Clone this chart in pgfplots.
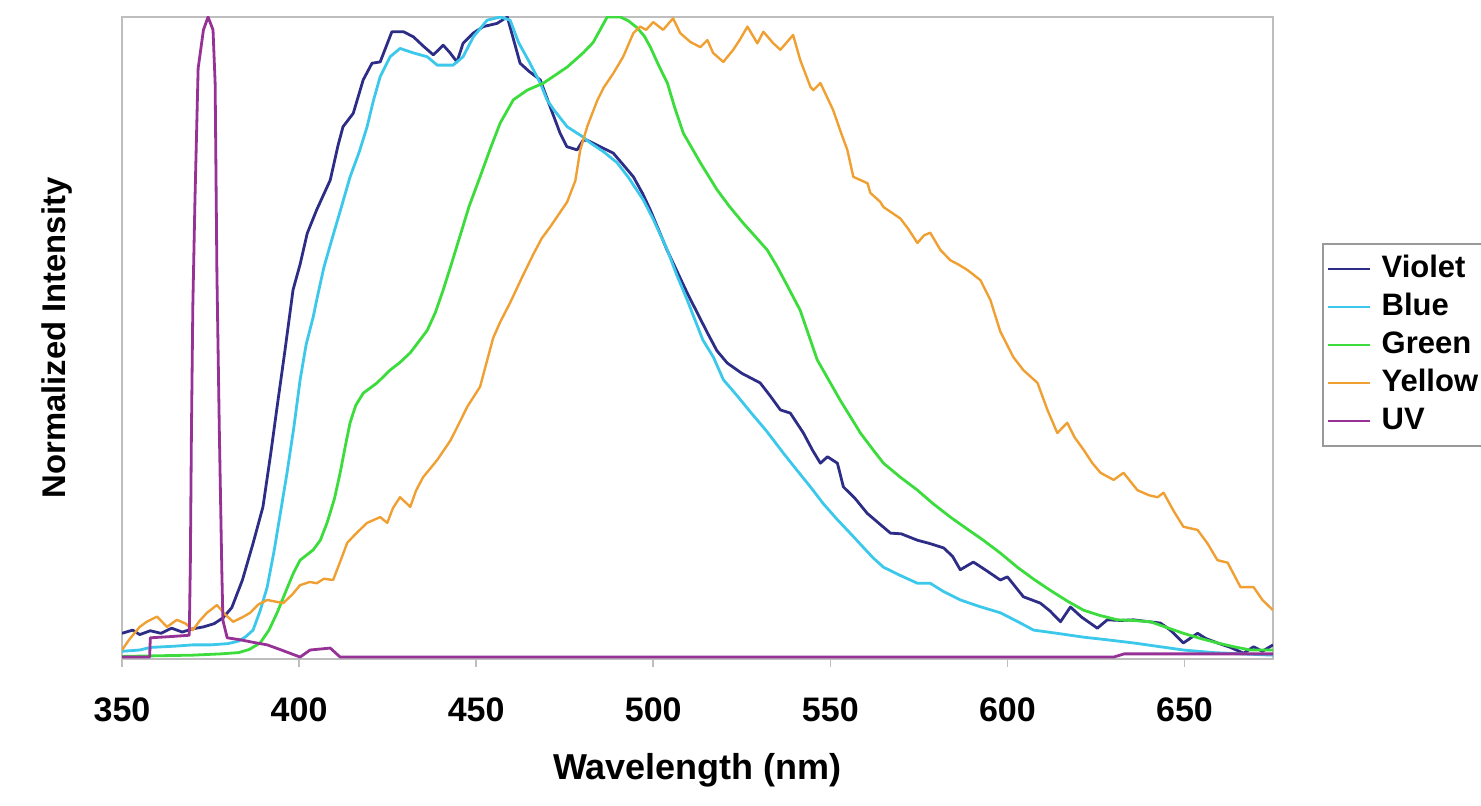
\documentclass[border=0pt]{standalone}
\usepackage{fontspec}
\setmainfont{Liberation Sans}
\usepackage{pgfplots}
\pgfplotsset{compat=1.18}
\definecolor{cViolet}{RGB}{45,45,135}
\definecolor{cBlue}{RGB}{60,200,235}
\definecolor{cGreen}{RGB}{60,220,60}
\definecolor{cYellow}{RGB}{240,160,50}
\definecolor{cUV}{RGB}{150,50,150}
\definecolor{cFrame}{RGB}{190,190,190}
\begin{document}
\begin{tikzpicture}
\path[use as bounding box] (0,0) rectangle (740.5pt,403pt);
\begin{axis}[
  at={(61pt,73.5pt)}, anchor=south west,
  scale only axis, width=575.5pt, height=321pt,
  xmin=350, xmax=675, ymin=0, ymax=1,
  xtick={350,400,...,650},
  xtick pos=lower,
  ytick=\empty,
  axis line style={draw=cFrame, line width=1pt},
  tick align=outside, major tick length=4pt,
  xtick style={draw=cFrame, line width=0.8pt},
  /pgf/number format/assume math mode=true,
  xticklabel style={font=\bfseries\fontsize{17}{20}\selectfont, anchor=base, yshift=-27.5pt},
  xlabel={Wavelength (nm)},
  ylabel={Normalized Intensity},
  xlabel style={at={(axis description cs:0.5,-0.188)}, anchor=base, font=\bfseries\fontsize{18}{21}\selectfont},
  ylabel style={at={(axis description cs:-0.0495,0.5)}, anchor=base, font=\bfseries\fontsize{16.4}{19}\selectfont},
  legend style={at={(1.0426,0.648)}, anchor=north west, draw=gray!80, line width=1pt,
     font=\bfseries\fontsize{15.5}{18}\selectfont, fill=white, inner xsep=2pt, inner ysep=3pt,
     nodes={text height=12pt, text depth=3pt, inner sep=2pt}},
  legend cell align=left,
  legend image code/.code={\draw[#1, line width=1.2pt] (0pt,0pt) -- (21pt,0pt); \path (24pt,0pt);},
  every axis plot/.append style={line join=round},
]
% Violet
\addplot[cViolet, line width=1.4pt] coordinates {
(350,0.040) (353,0.045) (355,0.038) (358,0.044) (361,0.040) (364,0.048) (367,0.042) (370,0.047)
(373,0.050) (376,0.055) (378.5,0.064) (381,0.080) (384,0.123) (387,0.180) (389.8,0.237) (392,0.320)
(393.8,0.393) (396,0.480) (398.3,0.575) (400.3,0.615) (402.3,0.663) (405,0.700) (408.8,0.746)
(411,0.800) (412.4,0.829) (415.3,0.850) (418.1,0.902) (420.6,0.928) (422.9,0.930) (426.2,0.977)
(429.5,0.977) (432.3,0.969) (435,0.955) (437.9,0.941) (440.7,0.956) (442.5,0.945) (444.6,0.930)
(446.3,0.959) (449.2,0.975) (452,0.985) (455.9,0.990) (458.8,1.000) (462.4,0.928) (465,0.915)
(468.1,0.902) (470.9,0.860) (473.7,0.819) (475.6,0.798) (478.5,0.793) (480.2,0.808) (481.4,0.808)
(485,0.798) (488.7,0.788) (491.5,0.770) (494.4,0.751) (497,0.725) (499.2,0.699) (503.9,0.637)
(509.6,0.570) (515.3,0.508) (518,0.480) (520.9,0.461) (525,0.445) (530.2,0.430) (533,0.410)
(535.9,0.388) (538.7,0.383) (542.4,0.352) (545,0.325) (547.2,0.305) (549.2,0.315) (552,0.305)
(553.7,0.268) (557,0.250) (560.4,0.227) (564,0.210) (567,0.196) (570,0.195) (574.6,0.185)
(578,0.180) (582,0.173) (584.5,0.160) (586.7,0.139) (590.4,0.151) (594,0.138) (598,0.123)
(600,0.128) (604.5,0.097) (609.3,0.087) (612,0.075) (615,0.058) (617.8,0.081) (621,0.065)
(625.4,0.048) (628.2,0.061) (632,0.060) (635.6,0.061) (640,0.058) (643.2,0.056) (646,0.045)
(649.7,0.025) (653.7,0.040) (656,0.032) (659.3,0.025) (663,0.018) (666.7,0.009) (669.5,0.019)
(672,0.012) (675,0.022)
};
\addlegendentry{Violet}
% Blue
\addplot[cBlue, line width=1.4pt] coordinates {
(350,0.012) (355,0.014) (358,0.018) (365,0.020) (370,0.022) (375,0.022) (380,0.024) (383,0.028)
(385,0.035) (387,0.045) (389,0.075) (391,0.112) (393,0.170) (394.8,0.230) (396.6,0.290)
(398.5,0.360) (400.3,0.435) (402,0.490) (404,0.533) (405,0.560) (407,0.610) (409.6,0.660)
(412,0.705) (414.4,0.751) (417,0.790) (419.2,0.829) (421,0.870) (422.9,0.907) (425.7,0.938)
(428.5,0.951) (432.3,0.944) (436.2,0.938) (439,0.925) (443.5,0.925) (446.3,0.938) (449.2,0.969)
(453.1,0.995) (456.8,1.000) (459.6,0.995) (462,0.960) (465,0.930) (468.1,0.897) (470,0.871)
(472,0.855) (475.7,0.829) (480.2,0.813) (482.2,0.804) (486,0.790) (489.8,0.773) (493,0.750)
(497.2,0.715) (500,0.685) (504,0.637) (506.5,0.600) (509.6,0.559) (514,0.497) (517,0.470)
(519.8,0.435) (523.7,0.410) (527.4,0.385) (532,0.355) (536.7,0.321) (540,0.298) (544.4,0.268)
(548,0.242) (552,0.217) (555.6,0.196) (559.3,0.174) (562,0.158) (565,0.143) (569.8,0.130)
(574.6,0.118) (578.2,0.118) (582,0.105) (586.7,0.092) (592,0.082) (598,0.072) (603,0.058)
(607.4,0.045) (614,0.040) (621.5,0.034) (628,0.030) (635.6,0.025) (642,0.020) (649.7,0.014)
(658,0.010) (666,0.008) (675,0.006)
};
\addlegendentry{Blue}
% Green
\addplot[cGreen, line width=1.4pt] coordinates {
(350,0.004) (360,0.005) (370,0.006) (378,0.008) (383,0.010) (386,0.015) (389,0.025) (391.5,0.045)
(393.8,0.072) (396.6,0.110) (398.5,0.135) (400.3,0.154) (404,0.170) (406,0.185) (407.9,0.212)
(410,0.250) (411.6,0.290) (413,0.330) (414.4,0.368) (416,0.395) (418.1,0.414) (422,0.430)
(425.7,0.450) (428.5,0.462) (431.4,0.477) (436.2,0.512) (438.5,0.540) (440.7,0.575) (443,0.615)
(445.5,0.660) (448,0.705) (451.1,0.751) (454,0.795) (456.8,0.835) (460.5,0.871) (464.4,0.886)
(469,0.897) (475.7,0.922) (480.2,0.944) (483,0.960) (485,0.980) (487,1.000) (490.7,1.000)
(493,0.994) (495.5,0.983) (497.5,0.970) (499.2,0.953) (501.5,0.925) (504,0.897) (506,0.860)
(508.5,0.819) (513.3,0.773) (518,0.731) (521.5,0.705) (525.4,0.679) (528.5,0.660) (532.2,0.637)
(535,0.611) (538,0.580) (541.5,0.543) (546.3,0.466) (549.5,0.435) (552.8,0.403) (555.6,0.378)
(558.5,0.352) (561.5,0.330) (565,0.305) (569.8,0.283) (574.6,0.263) (579,0.242) (583.9,0.221)
(588.5,0.203) (593.2,0.185) (598,0.165) (602.8,0.143) (607.5,0.124) (612.1,0.107) (617,0.090)
(621.5,0.076) (626,0.068) (631.1,0.061) (635.5,0.060) (640.4,0.058) (645,0.049) (649.7,0.040)
(654.5,0.032) (659.3,0.025) (664,0.019) (668.6,0.014) (675,0.014)
};
\addlegendentry{Green}
% Yellow
\addplot[cYellow, line width=1.2pt] coordinates {
(350,0.014) (352,0.030) (355,0.050) (357,0.058) (359.9,0.066) (362.7,0.050) (365.5,0.061)
(368,0.055) (370,0.045) (372,0.060) (374,0.072) (376.8,0.084) (379,0.070) (381.4,0.058)
(384,0.065) (386.2,0.072) (388.5,0.085) (391,0.092) (395.5,0.087) (398,0.100) (400.3,0.115)
(403,0.120) (405,0.118) (407,0.125) (409.6,0.123) (411.5,0.150) (413.6,0.181) (416,0.195)
(419.2,0.212) (422.9,0.221) (424.9,0.212) (426.5,0.235) (428.5,0.252) (431.4,0.237) (433,0.262)
(435,0.283) (439,0.310) (442.7,0.340) (445,0.365) (447.5,0.393) (451.1,0.424) (454.8,0.500)
(456.8,0.525) (459.6,0.555) (463,0.595) (466.1,0.630) (468.5,0.655) (470.9,0.673) (473,0.690)
(475.7,0.712) (478,0.745) (479.4,0.793) (481.4,0.830) (484.2,0.870) (486,0.890) (488.7,0.912)
(491.5,0.938) (494.4,0.975) (496.3,0.985) (498,0.980) (500,0.992) (502.8,0.980) (505.6,0.998)
(507.6,0.975) (510.5,0.961) (513.3,0.953) (515.3,0.964) (516.9,0.944) (519.8,0.930) (522.6,0.949)
(524.5,0.965) (526.6,0.985) (529.4,0.959) (531.1,0.977) (533.9,0.959) (535.9,0.949) (539.5,0.972)
(541.5,0.933) (544.4,0.891) (545.2,0.886) (547.2,0.897) (550.8,0.855) (553,0.820) (554.8,0.793)
(556.5,0.751) (558.5,0.746) (560.5,0.741) (561.3,0.726) (564.1,0.712) (565,0.704) (569.8,0.686)
(572,0.670) (574.6,0.648) (576.5,0.660) (578.2,0.664) (581.1,0.637) (583.9,0.621) (586,0.615)
(588.7,0.606) (592.4,0.590) (595.2,0.559) (598,0.510) (601.7,0.470) (604.5,0.450) (608.5,0.430)
(611.3,0.388) (614.1,0.352) (616.9,0.368) (619,0.345) (621.5,0.326) (624,0.305) (626.3,0.290)
(630,0.279) (632.8,0.290) (636.7,0.263) (640,0.255) (642.4,0.252) (644.1,0.259) (647,0.230)
(649.7,0.206) (653.7,0.201) (656.5,0.180) (659.3,0.154) (662.2,0.150) (665.8,0.112) (669.5,0.112)
(672,0.092) (675,0.076)
};
\addlegendentry{Yellow}
% UV
\addplot[cUV, line width=1.4pt] coordinates {
(350,0.003) (357.8,0.003) (358,0.033) (364,0.035) (369,0.037) (369.3,0.150) (369.6,0.350)
(370,0.550) (370.6,0.715) (371.5,0.920) (373,0.980) (374.3,1.000) (375.7,0.980) (376.3,0.897)
(376.8,0.600) (377.5,0.350) (378.2,0.134) (378.5,0.060) (379.7,0.033) (383.3,0.030) (387,0.026)
(391,0.022) (395,0.014) (400.3,0.003) (403.1,0.014) (408.8,0.017) (411.6,0.003) (630,0.003)
(633,0.008) (675,0.008)
};
\addlegendentry{UV}
\end{axis}
\end{tikzpicture}
\end{document}
